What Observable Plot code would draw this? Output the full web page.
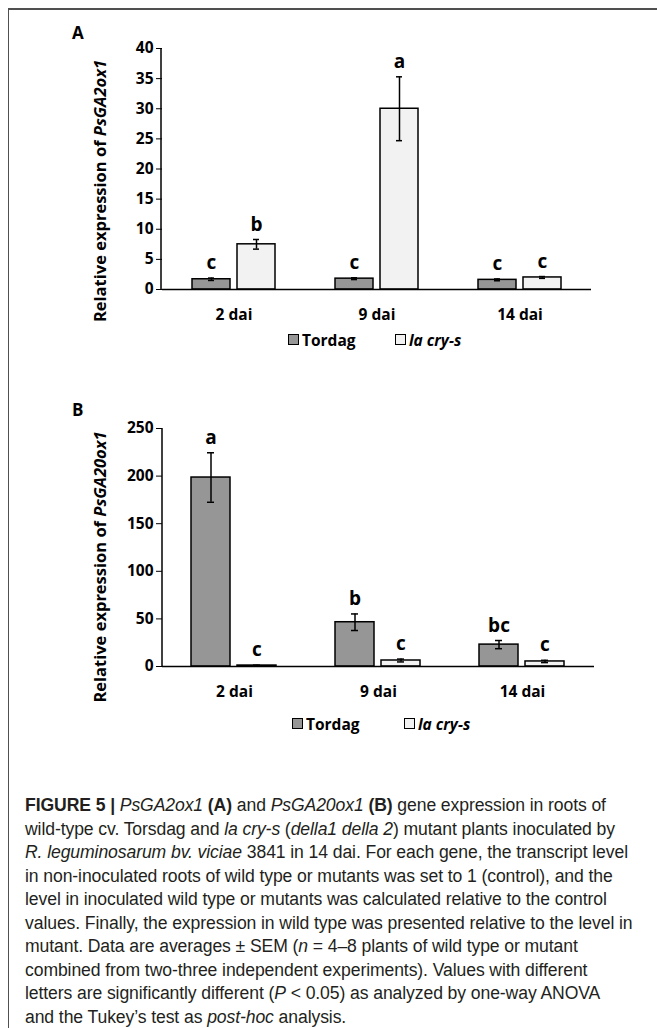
<!DOCTYPE html>
<html><head><meta charset="utf-8">
<script src="https://cdn.jsdelivr.net/npm/d3@7"></script>
<script src="https://cdn.jsdelivr.net/npm/@observablehq/plot@0.6"></script>
<style>
html,body{margin:0;padding:0;background:#fff;}
body{width:657px;height:1028px;overflow:hidden;position:relative;font-family:"Open Sans",sans-serif;}
#frame{position:absolute;left:8px;top:8px;width:660px;height:1040px;border-top:2px solid #505050;border-left:1.5px solid #505050;}
.panel{position:absolute;font-weight:bold;font-size:17px;color:#000;}
.chart{position:absolute;left:0;}
.leg{position:absolute;font-weight:bold;font-size:15.5px;color:#000;white-space:nowrap;line-height:18px;}
.sw{position:absolute;top:3px;width:11px;height:11px;border:1px solid #000;box-sizing:border-box;}
#caption{position:absolute;left:25px;top:794px;font-family:"Liberation Sans",sans-serif;font-size:17.6px;line-height:23.55px;color:#231f20;white-space:nowrap;letter-spacing:-0.1px;}
</style></head>
<body>
<div id="frame"></div>
<div class="panel" style="left:72px;top:21px;">A</div>
<div class="chart" id="chartA" style="top:20px;"></div>
<div class="leg" id="legA" style="top:331px;left:0;"></div>
<div class="panel" style="left:72px;top:398px;">B</div>
<div class="chart" id="chartB" style="top:400px;"></div>
<div class="leg" id="legB" style="top:715px;left:0;"></div>
<div id="caption">
<div><b>FIGURE 5 |</b> <i>PsGA2ox1</i> <b>(A)</b> and <i>PsGA20ox1</i> <b>(B)</b> gene expression in roots of</div>
<div>wild-type cv. Torsdag and <i>la cry-s</i> (<i>della1 della 2</i>) mutant plants inoculated by</div>
<div><i>R. leguminosarum bv. viciae</i> 3841 in 14 dai. For each gene, the transcript level</div>
<div>in non-inoculated roots of wild type or mutants was set to 1 (control), and the</div>
<div>level in inoculated wild type or mutants was calculated relative to the control</div>
<div>values. Finally, the expression in wild type was presented relative to the level in</div>
<div>mutant. Data are averages ± SEM (<i>n</i> = 4–8 plants of wild type or mutant</div>
<div>combined from two-three independent experiments). Values with different</div>
<div>letters are significantly different (<i>P</i> &lt; 0.05) as analyzed by one-way ANOVA</div>
<div>and the Tukey’s test as <i>post-hoc</i> analysis.</div>
</div>
<script>
// ---- data ----
const days = ["2 dai", "9 dai", "14 dai"];
const series = ["Tordag", "la cry-s"];
const colors = ["#969696", "#f2f2f2"];

const aTordag = [1.7, 1.8, 1.6];
const aTordagErr = [0.2, 0.15, 0.15];
const aLacrys = [7.5, 30.0, 2.0];
const aLacrysErr = [0.8, 5.3, 0.15];
const aLettersTordag = ["c", "c", "c"];
const aLettersLacrys = ["b", "a", "c"];
const aTicks = [0, 5, 10, 15, 20, 25, 30, 35, 40];

const bTordag = [198.5, 46.5, 23.0];
const bTordagErr = [26, 8.7, 4.3];
const bLacrys = [1.0, 6.3, 5.3];
const bLacrysErr = [0.4, 1.5, 1.2];
const bLettersTordag = ["a", "b", "bc"];
const bLettersLacrys = ["c", "c", "c"];
const bTicks = [0, 50, 100, 150, 200, 250];

function rows(t, te, l, le, lt, ll) {
  return days.flatMap((d, i) => [
    {day: d, series: series[0], v: t[i], e: te[i], letter: lt[i]},
    {day: d, series: series[1], v: l[i], e: le[i], letter: ll[i]}
  ]);
}

function chart(data, ticks, o) {
  const p = Plot.plot({
    width: 657, height: o.height,
    marginLeft: o.ml, marginRight: o.mr, marginTop: o.mt, marginBottom: o.mb,
    style: {fontFamily: "'Open Sans', sans-serif", fontSize: "15.5px", fontWeight: "bold", color: "#000", background: "transparent", overflow: "visible"},
    fx: {domain: days, padding: 0, axis: "bottom", label: null, tickSize: 0, tickPadding: o.fxPad},
    x: {domain: series, axis: null, paddingInner: 0.15, paddingOuter: 0.64},
    y: {domain: [0, ticks[ticks.length - 1]], ticks, tickSize: 6, tickPadding: 3, label: null, tickFormat: d => d},
    color: {domain: series, range: colors},
    marks: [
      Plot.barY(data, {fx: "day", x: "series", y: "v", fill: "series", stroke: "#000", strokeWidth: 1.5}),
      Plot.ruleY([0], {stroke: "#000", strokeWidth: 1.5}),
      Plot.ruleX(data, {fx: "day", x: "series", y1: d => Math.max(0, d.v - d.e), y2: d => d.v + d.e, stroke: "#000", strokeWidth: 1.5}),
      Plot.tickY(data, {fx: "day", x: "series", y: d => d.v + d.e, stroke: "#000", strokeWidth: 1.5, insetLeft: 16, insetRight: 16}),
      Plot.tickY(data, {fx: "day", x: "series", y: d => Math.max(0, d.v - d.e), stroke: "#000", strokeWidth: 1.5, insetLeft: 16, insetRight: 16}),
      Plot.text(data, {fx: "day", x: "series", y: d => d.v + d.e, text: "letter", dy: o.letterDy, fontSize: 19, fontWeight: "bold", fill: "#000"})
    ]
  });
  const svg = d3.select(p);
  const yr = p.scale("y").range;
  svg.append("line").attr("x1", o.ml).attr("x2", o.ml).attr("y1", yr[0]).attr("y2", yr[1])
    .attr("stroke", "#000").attr("stroke-width", 1.5);
  const t = svg.append("text")
    .attr("transform", `translate(${o.titleX},${o.titleY}) rotate(-90)`)
    .attr("text-anchor", "middle").attr("dy", "0.35em")
    .attr("font-size", 16.5).attr("font-weight", "bold").attr("fill", "#000");
  t.append("tspan").text("Relative expression of ");
  t.append("tspan").attr("font-style", "italic").text(o.gene);
  return p;
}

document.getElementById("chartA").append(chart(
  rows(aTordag, aTordagErr, aLacrys, aLacrysErr, aLettersTordag, aLettersLacrys), aTicks,
  {height: 310, ml: 161, mr: 65, mt: 28, mb: 41, fxPad: 19, letterDy: -15, titleX: 100, titleY: 171, gene: "PsGA2ox1"}
));
document.getElementById("chartB").append(chart(
  rows(bTordag, bTordagErr, bLacrys, bLacrysErr, bLettersTordag, bLettersLacrys), bTicks,
  {height: 308, ml: 162, mr: 63, mt: 28, mb: 42, fxPad: 19, letterDy: -15, titleX: 100, titleY: 167, gene: "PsGA20ox1"}
));

function legend(id, x0, x1) {
  const el = document.getElementById(id);
  [x0, x1].forEach((x, i) => {
    const sw = document.createElement("div");
    sw.className = "sw"; sw.style.left = x + "px"; sw.style.background = colors[i];
    el.append(sw);
    const tx = document.createElement("div");
    tx.style.position = "absolute"; tx.style.left = (x + 14) + "px"; tx.style.top = "0px";
    if (i === 1) tx.style.fontStyle = "italic";
    tx.textContent = series[i];
    el.append(tx);
  });
}
legend("legA", 288, 395);
legend("legB", 292, 404);
</script>
</body></html>
